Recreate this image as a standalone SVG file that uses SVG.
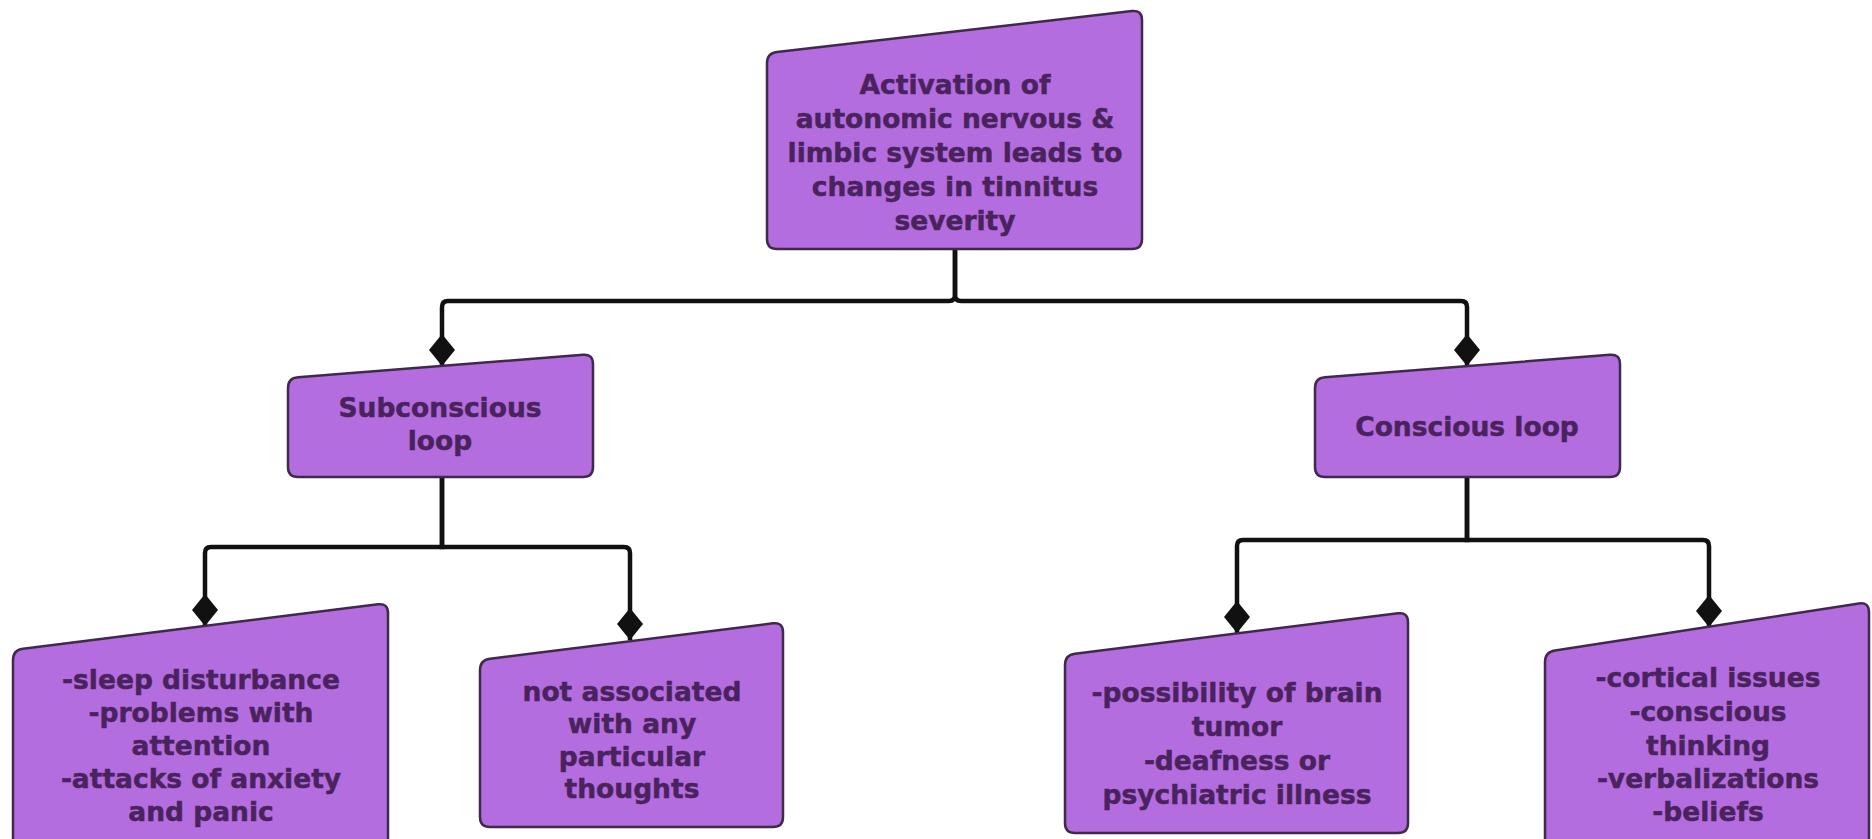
<svg xmlns="http://www.w3.org/2000/svg" width="1872" height="839" viewBox="0 0 1872 839">
<defs>
<style>
.node{fill:#b46ddf;stroke:#3f2a4a;stroke-width:2.5}
.lbl{font-family:"DejaVu Sans","Liberation Sans",sans-serif;font-weight:bold;font-size:26.5px;fill:#4a235e;stroke:#4a235e;stroke-width:0.5;text-anchor:middle}
.conn{fill:none;stroke:#111;stroke-width:4.5}
</style>
<marker id="dia" markerUnits="userSpaceOnUse" markerWidth="32" markerHeight="26" viewBox="0 0 32 26" refX="32" refY="13" orient="auto">
<path d="M0 13 L16 0 L32 13 L16 26 Z" fill="#111"/>
</marker>
</defs>
<rect width="1872" height="839" fill="#ffffff"/>
<g id="connectors">
<path class="conn" d="M955 249 V295 Q955 301 949 301 H448 Q442 301 442 307 V366" marker-end="url(#dia)"/>
<path class="conn" d="M955 249 V295 Q955 301 961 301 H1461 Q1467 301 1467 307 V366" marker-end="url(#dia)"/>
<path class="conn" d="M442 477 V547 H211 Q205 547 205 553 V626" marker-end="url(#dia)"/>
<path class="conn" d="M442 477 V547 H624 Q630 547 630 553 V640" marker-end="url(#dia)"/>
<path class="conn" d="M1467 477 V540 H1243 Q1237 540 1237 546 V633" marker-end="url(#dia)"/>
<path class="conn" d="M1467 477 V540 H1703 Q1709 540 1709 546 V627" marker-end="url(#dia)"/>
</g>
<g id="top">
<path class="node" d="M767 63 Q767 53 777 51.9 L1132 11.1 Q1142 10 1142 20 L1142 239 Q1142 249 1132 249 L777 249 Q767 249 767 239 Z"/>
<text class="lbl" x="955" y="94">Activation of</text>
<text class="lbl" x="955" y="128">autonomic nervous &amp;</text>
<text class="lbl" x="955" y="162">limbic system leads to</text>
<text class="lbl" x="955" y="196">changes in tinnitus</text>
<text class="lbl" x="955" y="230">severity</text>
</g>
<g id="subconscious">
<path class="node" d="M288 388 Q288 378 298 377.2 L583 354.8 Q593 354 593 364 L593 467 Q593 477 583 477 L298 477 Q288 477 288 467 Z"/>
<text class="lbl" x="440" y="417">Subconscious</text>
<text class="lbl" x="440" y="450">loop</text>
</g>
<g id="conscious">
<path class="node" d="M1315 388 Q1315 378 1325 377.2 L1610 354.8 Q1620 354 1620 364 L1620 467 Q1620 477 1610 477 L1325 477 Q1315 477 1315 467 Z"/>
<text class="lbl" x="1467" y="436">Conscious loop</text>
</g>
<g id="sleep">
<path class="node" d="M13 660 Q13 650 23 648.7 L378 604.3 Q388 603 388 613 L388 850 Q388 860 378 860 L23 860 Q13 860 13 850 Z"/>
<text class="lbl" x="201" y="689">-sleep disturbance</text>
<text class="lbl" x="201" y="722">-problems with</text>
<text class="lbl" x="201" y="755">attention</text>
<text class="lbl" x="201" y="788">-attacks of anxiety</text>
<text class="lbl" x="201" y="821">and panic</text>
</g>
<g id="notassociated">
<path class="node" d="M480 670 Q480 660 490 658.7 L773 623.3 Q783 622 783 632 L783 817 Q783 827 773 827 L490 827 Q480 827 480 817 Z"/>
<text class="lbl" x="632" y="701">not associated</text>
<text class="lbl" x="632" y="733">with any</text>
<text class="lbl" x="632" y="766">particular</text>
<text class="lbl" x="632" y="798">thoughts</text>
</g>
<g id="possibility">
<path class="node" d="M1065 665 Q1065 655 1075 653.7 L1398 613.3 Q1408 612 1408 622 L1408 823 Q1408 833 1398 833 L1075 833 Q1065 833 1065 823 Z"/>
<text class="lbl" x="1237" y="702">-possibility of brain</text>
<text class="lbl" x="1237" y="736">tumor</text>
<text class="lbl" x="1237" y="770">-deafness or</text>
<text class="lbl" x="1237" y="804">psychiatric illness</text>
</g>
<g id="cortical">
<path class="node" d="M1545 662 Q1545 652 1555 650.5 L1859 603.5 Q1869 602 1869 612 L1869 850 Q1869 860 1859 860 L1555 860 Q1545 860 1545 850 Z"/>
<text class="lbl" x="1708" y="687">-cortical issues</text>
<text class="lbl" x="1708" y="721">-conscious</text>
<text class="lbl" x="1708" y="755">thinking</text>
<text class="lbl" x="1708" y="788">-verbalizations</text>
<text class="lbl" x="1708" y="821">-beliefs</text>
</g>
</svg>
